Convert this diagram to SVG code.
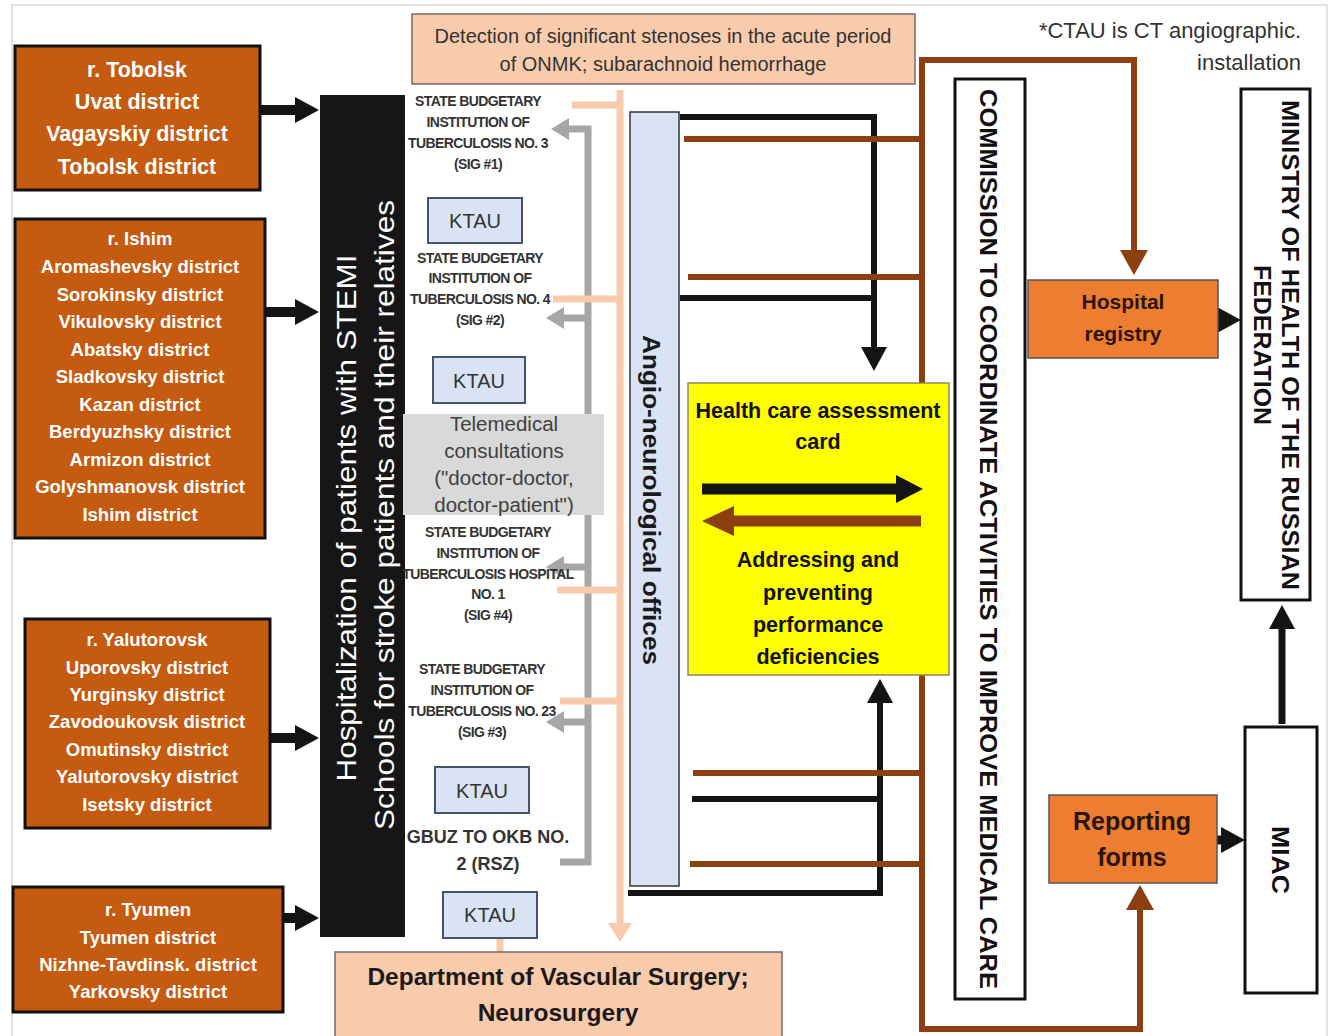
<svg xmlns="http://www.w3.org/2000/svg" width="1333" height="1036" viewBox="0 0 1333 1036">
  <style>
    text { font-family: "Liberation Sans", Arial, sans-serif; }
    .region rect { fill: #C55A11; stroke: #111; stroke-width: 3; }
    .region text { fill: #fff; font-weight: bold; font-size: 18.5px; text-anchor: middle; }
    #tobolsk text { font-size: 21.5px; }
    .inst { fill: #333; font-weight: bold; font-size: 14px; text-anchor: middle; letter-spacing: -0.6px; }
    .ktau rect { fill: #DAE3F3; stroke: #44546A; stroke-width: 2; }
    .ktau text { fill: #333; font-size: 20px; text-anchor: middle; }
    .peach { fill: #F8CBAD; stroke: #7a6a60; stroke-width: 1.5; }
    .vbox { fill: #fff; stroke: #111; stroke-width: 3; }
    .vlabel { fill: #111; font-weight: bold; font-size: 23px; text-anchor: middle; }
    .orange { fill: #ED7D31; stroke: #555; stroke-width: 1.5; }
    .otext { fill: #2a1508; font-weight: bold; text-anchor: middle; }
    .ytext { fill: #111; font-weight: bold; font-size: 21.5px; text-anchor: middle; }
    .blk { stroke: #141414; fill: none; stroke-width: 6; }
    .brn { stroke: #8C3F10; fill: none; stroke-width: 6; }
    .gry { stroke: #A6A6A6; fill: none; stroke-width: 7; }
    .pch { stroke: #F8CBAD; fill: none; stroke-width: 7; }
  </style>
  <defs>
    <marker id="hd-big" markerUnits="userSpaceOnUse" markerWidth="26" markerHeight="30" refX="1" refY="15" orient="auto">
      <path d="M0,2 L24,15 L0,28 z" fill="#141414"/>
    </marker>
    <marker id="hd-blk" markerUnits="userSpaceOnUse" markerWidth="26" markerHeight="28" refX="1" refY="14" orient="auto">
      <path d="M0,1 L24,14 L0,27 z" fill="#141414"/>
    </marker>
    <marker id="hd-brn" markerUnits="userSpaceOnUse" markerWidth="26" markerHeight="30" refX="1" refY="15" orient="auto">
      <path d="M0,1 L25,15 L0,29 z" fill="#8C3F10"/>
    </marker>
    <marker id="hd-gry" markerUnits="userSpaceOnUse" markerWidth="20" markerHeight="24" refX="1" refY="12" orient="auto">
      <path d="M0,1 L18,12 L0,23 z" fill="#A6A6A6"/>
    </marker>
    <marker id="hd-pch" markerUnits="userSpaceOnUse" markerWidth="20" markerHeight="26" refX="1" refY="13" orient="auto">
      <path d="M0,1 L19,13 L0,25 z" fill="#F8CBAD"/>
    </marker>
  </defs>

  <rect x="0" y="0" width="1333" height="1036" fill="#fff"/>
  <rect x="12" y="5" width="1315" height="1040" fill="none" stroke="#e2e2e2" stroke-width="2"/>

  <!-- connectors -->
  <g id="connectors">
    <!-- districts to hospitalization bar -->
    <line x1="260" y1="110" x2="296" y2="110" stroke="#141414" stroke-width="10" marker-end="url(#hd-big)"/>
    <line x1="265" y1="312" x2="296" y2="312" stroke="#141414" stroke-width="10" marker-end="url(#hd-big)"/>
    <line x1="270" y1="738" x2="296" y2="738" stroke="#141414" stroke-width="10" marker-end="url(#hd-big)"/>
    <line x1="283" y1="918" x2="296" y2="918" stroke="#141414" stroke-width="10" marker-end="url(#hd-big)"/>

    <!-- gray referral bus -->
    <path class="gry" d="M560,862 H588 V129 H568" marker-end="url(#hd-gry)"/>
    <path class="gry" d="M588,318 H563" marker-end="url(#hd-gry)"/>
    <path class="gry" d="M588,567 H563" marker-end="url(#hd-gry)"/>
    <path class="gry" d="M588,722 H563" marker-end="url(#hd-gry)"/>

    <!-- peach bus to surgery department -->
    <path class="pch" d="M620,90 V924" marker-end="url(#hd-pch)"/>
    <path class="pch" d="M572,105 H620"/>
    <path class="pch" d="M553,299 H620"/>
    <path class="pch" d="M557,590 H620"/>
    <path class="pch" d="M560,701 H620"/>
    <path class="pch" d="M500,938 V952"/>

    <!-- offices to assessment card -->
    <path class="blk" d="M680,117 H874 V348" marker-end="url(#hd-blk)"/>
    <path class="blk" d="M680,298 H874"/>
    <path class="blk" d="M628,893 H880 V702" marker-end="url(#hd-blk)"/>
    <path class="blk" d="M692,799 H880"/>

    <!-- brown feedback lines -->
    <path class="brn" d="M684,139 H922"/>
    <path class="brn" d="M688,277 H922"/>
    <path class="brn" d="M693,773 H922"/>
    <path class="brn" d="M690,864 H922"/>
    <path class="brn" d="M922,545 V60 H1134 V251" marker-end="url(#hd-brn)"/>
    <path class="brn" d="M922,540 V1029 H1140 V909" marker-end="url(#hd-brn)"/>

    <!-- reporting chain -->
    <line x1="1198" y1="320" x2="1218" y2="320" stroke="#141414" stroke-width="9" marker-end="url(#hd-blk)"/>
    <line x1="1200" y1="840" x2="1222" y2="840" stroke="#141414" stroke-width="9" marker-end="url(#hd-blk)"/>
    <line x1="1282" y1="724" x2="1282" y2="628" stroke="#141414" stroke-width="7" marker-end="url(#hd-blk)"/>
  </g>

  <!-- district groups -->
  <g id="tobolsk" class="region">
    <rect x="15" y="46" width="245" height="144"/>
    <text x="137" y="77">r. Tobolsk</text>
    <text x="137" y="109">Uvat district</text>
    <text x="137" y="141">Vagayskiy district</text>
    <text x="137" y="174">Tobolsk district</text>
  </g>
  <g id="ishim" class="region">
    <rect x="15" y="219" width="250" height="319"/>
    <text x="140" y="245">r. Ishim</text>
    <text x="140" y="273">Aromashevsky district</text>
    <text x="140" y="301">Sorokinsky district</text>
    <text x="140" y="328">Vikulovsky district</text>
    <text x="140" y="356">Abatsky district</text>
    <text x="140" y="383">Sladkovsky district</text>
    <text x="140" y="411">Kazan district</text>
    <text x="140" y="438">Berdyuzhsky district</text>
    <text x="140" y="466">Armizon district</text>
    <text x="140" y="493">Golyshmanovsk district</text>
    <text x="140" y="521">Ishim district</text>
  </g>
  <g id="yalutorovsk" class="region">
    <rect x="25" y="619" width="245" height="209"/>
    <text x="147" y="646">r. Yalutorovsk</text>
    <text x="147" y="674">Uporovsky district</text>
    <text x="147" y="701">Yurginsky district</text>
    <text x="147" y="728">Zavodoukovsk district</text>
    <text x="147" y="756">Omutinsky district</text>
    <text x="147" y="783">Yalutorovsky district</text>
    <text x="147" y="811">Isetsky district</text>
  </g>
  <g id="tyumen" class="region">
    <rect x="13" y="887" width="270" height="125"/>
    <text x="148" y="916">r. Tyumen</text>
    <text x="148" y="944">Tyumen district</text>
    <text x="148" y="971">Nizhne-Tavdinsk. district</text>
    <text x="148" y="998">Yarkovsky district</text>
  </g>

  <!-- hospitalization bar -->
  <g id="hospitalization">
    <rect x="320" y="95" width="85" height="842" fill="#161616"/>
    <g transform="rotate(-90)" fill="#fff" font-size="28px" text-anchor="middle">
      <text x="-518" y="356" textLength="527" lengthAdjust="spacingAndGlyphs">Hospitalization of patients with STEMI</text>
      <text x="-515" y="394" textLength="630" lengthAdjust="spacingAndGlyphs">Schools for stroke patients and their relatives</text>
    </g>
  </g>

  <!-- detection box -->
  <g id="detection">
    <rect class="peach" x="412" y="14" width="503" height="70"/>
    <text x="663" y="43" font-size="20px" fill="#333" text-anchor="middle">Detection of significant stenoses in the acute period</text>
    <text x="663" y="71" font-size="20px" fill="#333" text-anchor="middle">of ONMK; subarachnoid hemorrhage</text>
  </g>

  <!-- footnote -->
  <g id="note" fill="#333" font-size="22px" text-anchor="end">
    <text x="1301" y="38">*CTAU is CT angiographic.</text>
    <text x="1301" y="70">installation</text>
  </g>

  <!-- institutions -->
  <g id="inst-sig1">
    <text class="inst" x="478" y="106">STATE BUDGETARY</text>
    <text class="inst" x="478" y="127">INSTITUTION OF</text>
    <text class="inst" x="478" y="148">TUBERCULOSIS NO. 3</text>
    <text class="inst" x="478" y="169">(SIG #1)</text>
  </g>
  <g id="ktau-1" class="ktau">
    <rect x="428" y="198" width="94" height="45"/>
    <text x="475" y="228">KTAU</text>
  </g>
  <g id="inst-sig2">
    <text class="inst" x="480" y="263">STATE BUDGETARY</text>
    <text class="inst" x="480" y="283">INSTITUTION OF</text>
    <text class="inst" x="480" y="304">TUBERCULOSIS NO. 4</text>
    <text class="inst" x="480" y="325">(SIG #2)</text>
  </g>
  <g id="ktau-2" class="ktau">
    <rect x="433" y="357" width="92" height="46"/>
    <text x="479" y="388">KTAU</text>
  </g>
  <g id="telemedical">
    <rect x="403" y="414" width="201" height="101" fill="#D9D9D9"/>
    <g fill="#404040" font-size="20.5px" text-anchor="middle">
      <text x="504" y="431">Telemedical</text>
      <text x="504" y="458">consultations</text>
      <text x="504" y="485">("doctor-doctor,</text>
      <text x="504" y="512">doctor-patient")</text>
    </g>
  </g>
  <g id="inst-sig4">
    <text class="inst" x="488" y="537">STATE BUDGETARY</text>
    <text class="inst" x="488" y="558">INSTITUTION OF</text>
    <text class="inst" x="488" y="579">TUBERCULOSIS HOSPITAL</text>
    <text class="inst" x="488" y="599">NO. 1</text>
    <text class="inst" x="488" y="620">(SIG #4)</text>
  </g>
  <g id="inst-sig3">
    <text class="inst" x="482" y="674">STATE BUDGETARY</text>
    <text class="inst" x="482" y="695">INSTITUTION OF</text>
    <text class="inst" x="482" y="716">TUBERCULOSIS NO. 23</text>
    <text class="inst" x="482" y="737">(SIG #3)</text>
  </g>
  <g id="ktau-3" class="ktau">
    <rect x="435" y="767" width="94" height="46"/>
    <text x="482" y="798">KTAU</text>
  </g>
  <g id="gbuz" fill="#333" font-weight="bold" font-size="18px" text-anchor="middle">
    <text x="488" y="843">GBUZ TO OKB NO.</text>
    <text x="488" y="870">2 (RSZ)</text>
  </g>
  <g id="ktau-4" class="ktau">
    <rect x="443" y="892" width="94" height="46"/>
    <text x="490" y="922">KTAU</text>
  </g>

  <!-- surgery department -->
  <g id="surgery">
    <rect class="peach" x="335" y="952" width="447" height="90"/>
    <text x="558" y="985" fill="#1a1a1a" font-weight="bold" font-size="24.5px" text-anchor="middle">Department of Vascular Surgery;</text>
    <text x="558" y="1021" fill="#1a1a1a" font-weight="bold" font-size="24.5px" text-anchor="middle">Neurosurgery</text>
  </g>

  <!-- angio-neurological offices -->
  <g id="angio">
    <rect x="630" y="112" width="49" height="774" fill="#DAE3F3" stroke="#333" stroke-width="1.5"/>
    <text transform="rotate(90)" x="500" y="-643" fill="#1a1a1a" font-weight="bold" font-size="24px" text-anchor="middle" textLength="330" lengthAdjust="spacingAndGlyphs">Angio-neurological offices</text>
  </g>

  <!-- assessment card -->
  <g id="assessment">
    <rect x="688" y="383" width="261" height="292" fill="#FFFF00" stroke="#8a8a60" stroke-width="1.5"/>
    <text class="ytext" x="818" y="418">Health care assessment</text>
    <text class="ytext" x="818" y="449">card</text>
    <line x1="702" y1="489" x2="898" y2="489" stroke="#141414" stroke-width="11"/>
    <path d="M896,475 L923,489 L896,503 z" fill="#141414"/>
    <line x1="921" y1="521" x2="732" y2="521" stroke="#8C3F10" stroke-width="11"/>
    <path d="M734,506 L702,521 L734,536 z" fill="#8C3F10"/>
    <text class="ytext" x="818" y="567">Addressing and</text>
    <text class="ytext" x="818" y="600">preventing</text>
    <text class="ytext" x="818" y="632">performance</text>
    <text class="ytext" x="818" y="664">deficiencies</text>
  </g>

  <!-- commission -->
  <g id="commission">
    <rect class="vbox" x="955" y="79" width="70" height="920"/>
    <text class="vlabel" transform="rotate(90)" x="539" y="-980" textLength="900" lengthAdjust="spacingAndGlyphs">COMMISSION TO COORDINATE ACTIVITIES TO IMPROVE MEDICAL CARE</text>
  </g>

  <!-- hospital registry -->
  <g id="registry">
    <rect class="orange" x="1028" y="280" width="190" height="78"/>
    <text class="otext" x="1123" y="309" font-size="21px">Hospital</text>
    <text class="otext" x="1123" y="341" font-size="21px">registry</text>
  </g>

  <!-- reporting forms -->
  <g id="reporting">
    <rect class="orange" x="1049" y="795" width="168" height="88"/>
    <text class="otext" x="1132" y="830" font-size="25px">Reporting</text>
    <text class="otext" x="1132" y="866" font-size="25px">forms</text>
  </g>

  <!-- ministry -->
  <g id="ministry">
    <rect class="vbox" x="1241" y="89" width="69" height="511"/>
    <g transform="rotate(90)">
      <text class="vlabel" x="345" y="-1282" textLength="490" lengthAdjust="spacingAndGlyphs">MINISTRY OF HEALTH OF THE RUSSIAN</text>
      <text class="vlabel" x="345" y="-1254" textLength="160" lengthAdjust="spacingAndGlyphs">FEDERATION</text>
    </g>
  </g>

  <!-- MIAC -->
  <g id="miac">
    <rect class="vbox" x="1245" y="727" width="72" height="266"/>
    <text class="vlabel" transform="rotate(90)" x="860" y="-1272" textLength="68" lengthAdjust="spacingAndGlyphs">MIAC</text>
  </g>
</svg>
